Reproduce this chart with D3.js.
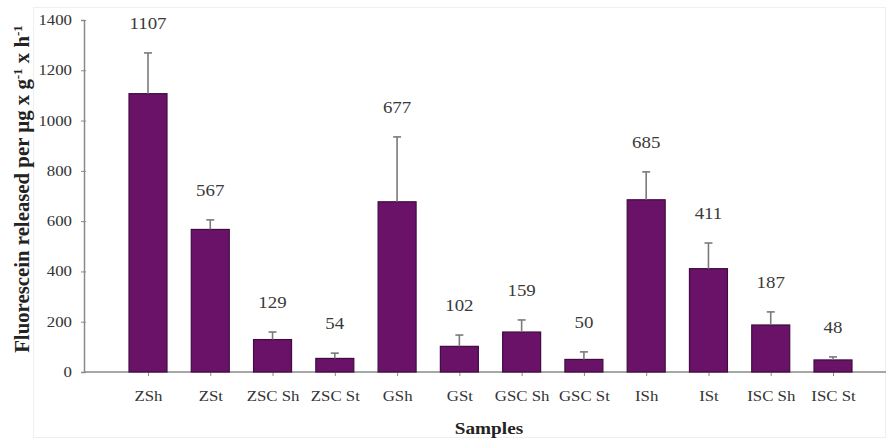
<!DOCTYPE html>
<html>
<head>
<meta charset="utf-8">
<script src="https://cdn.jsdelivr.net/npm/d3@7"></script>
<style>
  html, body { margin: 0; padding: 0; background: #fff; }
  svg { display: block; }
</style>
</head>
<body>
<script>
// Fluorescein release per sample (mean) with standard deviation
const samples = ["ZSh", "ZSt", "ZSC Sh", "ZSC St", "GSh", "GSt", "GSC Sh", "GSC St", "ISh", "ISt", "ISC Sh", "ISC St"];
const means = [1107, 567, 129, 54, 677, 102, 159, 50, 685, 411, 187, 48];
const errors = [162, 38, 30, 21, 258, 45, 48, 30, 111, 102, 52, 12];
const yTicks = [0, 200, 400, 600, 800, 1000, 1200, 1400];

const W = 886, H = 438;
const serif = "'Liberation Serif', 'Times New Roman', serif";

const svg = d3.select("body").append("svg")
  .attr("width", W).attr("height", H);

// widen text horizontally by a factor, keeping its anchor
function widen(sel, k) {
  sel.each(function () {
    const len = this.getComputedTextLength();
    d3.select(this).attr("textLength", len * k).attr("lengthAdjust", "spacingAndGlyphs");
  });
}

// faint frame around the figure
svg.append("rect")
  .attr("x", 33.5).attr("y", 7.5)
  .attr("width", 852).attr("height", 430)
  .attr("fill", "none").attr("stroke", "#efefef");

const y = d3.scaleLinear().domain([0, 1400]).range([372, 20]);
const x = d3.scalePoint().domain(samples).range([148, 833]);
const barW = x.step() * 0.61;

const axisColor = "#8a8a8a";

// y axis
const yAxis = svg.append("g")
  .attr("transform", "translate(84,0)")
  .call(d3.axisLeft(y).tickValues(yTicks).tickFormat(d3.format("d")).tickSize(3).tickPadding(9));
yAxis.select(".domain").attr("stroke", axisColor).attr("stroke-width", 1.5);
yAxis.selectAll(".tick line").attr("stroke", axisColor).attr("x2", 2).attr("x1", -3);
yAxis.selectAll(".tick text")
  .attr("font-family", serif).attr("font-size", 14).attr("fill", "#333")
  .call(widen, 1.2);

// x axis
const xAxis = svg.append("g")
  .attr("transform", "translate(0,372)")
  .call(d3.axisBottom(x).tickSize(4).tickPadding(14));
xAxis.select(".domain").attr("d", "M84,0H886").attr("stroke", axisColor).attr("stroke-width", 1.5);
xAxis.selectAll(".tick line").attr("stroke", axisColor);
xAxis.selectAll(".tick text")
  .attr("font-family", serif).attr("font-size", 15).attr("fill", "#333")
  .call(widen, 1.12);

// bars
svg.append("g").selectAll("rect")
  .data(samples)
  .join("rect")
  .attr("x", (d) => x(d) - barW / 2)
  .attr("y", (d, i) => y(means[i]))
  .attr("width", barW)
  .attr("height", (d, i) => y(0) - y(means[i]))
  .attr("fill", "#6a1268")
  .attr("stroke", "#3e0c42")
  .attr("stroke-width", 1.2);

// error bars (upper half only)
const eg = svg.append("g").attr("stroke", "#7a7a7a").attr("stroke-width", 1.6);
samples.forEach((s, i) => {
  const cx = x(s);
  eg.append("line")
    .attr("x1", cx).attr("x2", cx)
    .attr("y1", y(means[i])).attr("y2", y(means[i] + errors[i]));
  eg.append("line")
    .attr("x1", cx - 4).attr("x2", cx + 4)
    .attr("y1", y(means[i] + errors[i])).attr("y2", y(means[i] + errors[i]));
});

// value labels above the error bars
svg.append("g").selectAll("text")
  .data(samples)
  .join("text")
  .attr("x", (d) => x(d))
  .attr("y", (d, i) => y(means[i] + errors[i]) - 24)
  .attr("text-anchor", "middle")
  .attr("font-family", serif)
  .attr("font-size", 16)
  .attr("fill", "#3a3a3a")
  .text((d, i) => means[i])
  .call(widen, 1.18);

// axis titles
svg.append("text")
  .attr("x", 489).attr("y", 434)
  .attr("text-anchor", "middle")
  .attr("font-family", serif).attr("font-weight", "bold")
  .attr("font-size", 16).attr("fill", "#222")
  .text("Samples")
  .call(widen, 1.2);

const yt = svg.append("text")
  .attr("transform", "translate(29,189) rotate(-90)")
  .attr("text-anchor", "middle")
  .attr("font-family", serif).attr("font-weight", "bold")
  .attr("font-size", 20.8).attr("fill", "#222");
yt.append("tspan").text("Fluorescein released per µg x g");
yt.append("tspan").attr("dy", -7).attr("font-size", 13).text("-1");
yt.append("tspan").attr("dy", 7).text(" x h");
yt.append("tspan").attr("dy", -7).attr("font-size", 13).text("-1");
</script>
</body>
</html>
